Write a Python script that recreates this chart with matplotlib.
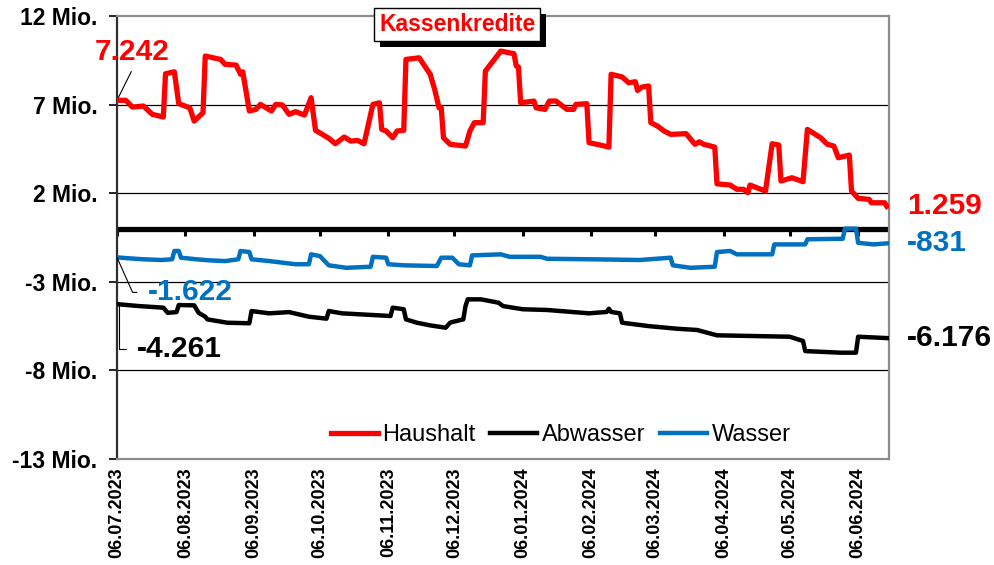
import matplotlib
matplotlib.use("Agg")
import matplotlib.pyplot as plt
import matplotlib.patheffects as pe
import pandas as pd

plt.rcParams['font.family'] = ['Liberation Sans', 'DejaVu Sans']

START = pd.Timestamp("2023-07-06")

# Tage seit 06.07.2023 / Werte in Mio. EUR
haushalt_days = [0, 4, 7, 12, 16, 21, 22, 26, 28, 33, 35, 39, 40, 47, 49, 54, 56, 57, 60, 63,
                 65, 70, 72, 75, 78, 81, 85, 88, 90, 96, 99, 103, 106, 109, 112, 116, 119, 120,
                 122, 125, 127, 130, 131, 137, 140, 142, 144, 146, 147, 148, 151, 158, 160, 162,
                 166, 167, 174, 180, 181, 182, 183, 189, 190, 194, 196, 199, 204, 207, 208, 213,
                 214, 219, 223, 224, 229, 232, 235, 236, 238, 241, 242, 245, 248, 251, 258, 262,
                 264, 266, 271, 272, 278, 281, 284, 286, 287, 290, 294, 297, 300, 301, 306, 311,
                 313, 319, 322, 325, 327, 332, 333, 336, 341, 342, 348, 349]
haushalt = [7.242, 7.24, 6.86, 6.92, 6.45, 6.30, 8.74, 8.85, 7.05, 6.82, 6.07, 6.54, 9.74, 9.55,
            9.27, 9.23, 8.71, 8.85, 6.64, 6.73, 7.01, 6.64, 7.01, 6.98, 6.45, 6.60, 6.41, 7.39,
            5.55, 5.10, 4.79, 5.17, 4.94, 4.98, 4.79, 7.01, 7.10, 5.60, 5.51, 5.13, 5.51, 5.55,
            9.55, 9.64, 9.08, 8.71, 7.86, 6.82, 6.82, 5.13, 4.76, 4.66, 5.51, 5.98, 5.98, 8.89,
            10.02, 9.87, 9.18, 9.12, 7.10, 7.20, 6.82, 6.73, 7.20, 7.20, 6.73, 6.73, 7.01, 7.05,
            4.85, 4.72, 4.60, 8.71, 8.56, 8.23, 8.29, 7.80, 7.99, 8.05, 5.98, 5.79, 5.51, 5.32,
            5.36, 4.76, 4.90, 4.76, 4.60, 2.53, 2.46, 2.22, 2.22, 2.03, 2.46, 2.31, 2.12, 4.79,
            4.72, 2.69, 2.87, 2.65, 5.60, 5.13, 4.76, 4.66, 4.00, 4.15, 2.12, 1.71, 1.65, 1.46,
            1.46, 1.259]

abwasser_days = [0, 10, 21, 23, 27, 28, 35, 37, 40, 41, 50, 60, 61, 69, 78, 87, 95, 96, 102,
                 124, 125, 130, 131, 136, 142, 149, 151, 152, 157, 158, 159, 165, 173, 175, 184,
                 195, 214, 222, 223, 224, 228, 229, 241, 254, 263, 272, 305, 311, 312, 328, 335,
                 336, 349]
abwasser = [-4.261, -4.37, -4.46, -4.75, -4.71, -4.31, -4.33, -4.75, -4.97, -5.12, -5.31, -5.34,
            -4.65, -4.78, -4.71, -4.97, -5.08, -4.65, -4.78, -4.93, -4.46, -4.55, -5.12, -5.31,
            -5.46, -5.59, -5.31, -5.27, -5.12, -4.37, -3.99, -3.99, -4.18, -4.37, -4.55, -4.59,
            -4.78, -4.70, -4.52, -4.70, -4.78, -5.31, -5.50, -5.65, -5.72, -6.02, -6.10, -6.34,
            -6.91, -7.00, -7.00, -6.10, -6.176]

wasser_days = [0, 6, 12, 20, 25, 26, 28, 29, 36, 42, 49, 55, 56, 60, 61, 69, 81, 87, 88, 92, 96,
               104, 115, 116, 122, 123, 130, 145, 147, 152, 155, 160, 161, 174, 178, 192, 195,
               215, 237, 251, 252, 260, 271, 272, 278, 281, 297, 298, 312, 313, 329, 330, 335,
               336, 343, 349]
wasser = [-1.622, -1.68, -1.73, -1.77, -1.73, -1.26, -1.26, -1.64, -1.73, -1.79, -1.83, -1.73,
          -1.26, -1.32, -1.73, -1.83, -2.01, -2.01, -1.45, -1.55, -2.07, -2.21, -2.15, -1.59,
          -1.64, -2.01, -2.07, -2.11, -1.64, -1.64, -2.01, -2.07, -1.51, -1.45, -1.59, -1.59,
          -1.70, -1.73, -1.77, -1.64, -2.07, -2.21, -2.15, -1.32, -1.26, -1.45, -1.45, -0.89,
          -0.89, -0.60, -0.57, 0.0, 0.0, -0.80, -0.89, -0.831]

y_ticks = [12, 7, 2, -3, -8, -13]
y_labels = ["12 Mio.", "7 Mio.", "2 Mio.", "-3 Mio.", "-8 Mio.", "-13 Mio."]
x_ticks = pd.date_range("2023-07-01", "2024-06-01", freq="MS") + pd.Timedelta(days=5)
x_labels = [d.strftime("%d.%m.%Y") for d in x_ticks]


def to_dates(days):
    return START + pd.to_timedelta(days, unit="D")


fig = plt.figure(figsize=(9.94, 5.65), dpi=100)
ax = fig.add_axes([0.1177, 0.1876, 0.7767, 0.7841])

for g in [7, 2, -3, -8]:
    ax.axhline(g, color="black", lw=0.9, zorder=1)
ax.axhline(0, color="black", lw=3.8, zorder=2)
ax.plot(x_ticks, [0] * len(x_ticks), ls="none", marker=3, ms=5, mew=2.2,
        color="black", zorder=2)

ax.plot(to_dates(haushalt_days), haushalt, color="#ff0000", lw=3.8, label="Haushalt",
        solid_joinstyle="round", zorder=4)
ax.plot(to_dates(abwasser_days), abwasser, color="black", lw=3.2, label="Abwasser",
        solid_joinstyle="round", zorder=3)
ax.plot(to_dates(wasser_days), wasser, color="#0070c0", lw=3.2, label="Wasser",
        solid_joinstyle="round", zorder=3)

ax.set_xlim(START, START + pd.Timedelta(days=350))
ax.set_ylim(-13, 12)
ax.set_yticks(y_ticks)
ax.set_yticklabels(y_labels, fontsize=16.5, fontweight="bold")
ax.set_xticks(x_ticks)
ax.set_xticklabels(x_labels, rotation=90, fontsize=13, fontweight="bold")
ax.tick_params(axis="y", length=6, width=1.2, pad=8, direction="out")
ax.tick_params(axis="x", length=0, pad=6)

for side in ["top", "right", "bottom"]:
    ax.spines[side].set_color("#8c8c8c")
    ax.spines[side].set_linewidth(1.6)
ax.spines["left"].set_color("#303030")
ax.spines["left"].set_linewidth(1.6)

leg = ax.legend(loc="center", bbox_to_anchor=(0.564, 0.23), bbox_transform=fig.transFigure,
                ncol=3, frameon=False, fontsize=17, handlelength=2.0, handletextpad=0.2,
                columnspacing=0.6)

lab = dict(fontsize=21.5, fontweight="bold", textcoords="offset pixels", va="center",
           ha="left")
d0 = to_dates([0])[0]
ax.annotate("7.242", xy=(d0, haushalt[0]), xytext=(-22, 48), color="#ff0000",
            arrowprops=dict(arrowstyle="-", color="black", lw=0.8, shrinkA=2, shrinkB=0,
                            relpos=(0.52, 0.0)), **lab)
ax.annotate("-1.622", xy=(d0, wasser[0]), xytext=(31, -35), color="#0070c0",
            arrowprops=dict(arrowstyle="-", color="black", lw=0.8, shrinkA=6, shrinkB=0,
                            relpos=(0.0, 0.5),
                            connectionstyle="angle,angleA=0,angleB=-66,rad=0"), **lab)
ax.annotate("-4.261", xy=(d0 + pd.Timedelta(days=1), abwasser[0]), xytext=(18, -45),
            color="black",
            arrowprops=dict(arrowstyle="-", color="black", lw=0.8, shrinkA=6, shrinkB=0,
                            relpos=(0.0, 0.5),
                            connectionstyle="angle,angleA=0,angleB=90,rad=0"), **lab)

dn = to_dates([haushalt_days[-1]])[0]
ax.annotate("1.259", xy=(dn, haushalt[-1]), xytext=(20, 0), color="#ff0000",
            annotation_clip=False, **lab)
ax.annotate("-831", xy=(dn, wasser[-1]), xytext=(20, 0), color="#0070c0",
            annotation_clip=False, **lab)
ax.annotate("-6.176", xy=(dn, abwasser[-1]), xytext=(20, 0), color="black",
            annotation_clip=False, **lab)

t = fig.text(0.46, 0.956, "Kassenkredite", color="#ff0000", fontsize=16.5,
             fontweight="bold", ha="center", va="center",
             bbox=dict(boxstyle="square,pad=0.22", fc="white", ec="black", lw=1.0))
t.get_bbox_patch().set_path_effects([
    pe.withSimplePatchShadow(offset=(4, -4), shadow_rgbFace="black", alpha=1.0)])

fig.savefig("out.png", dpi=100)
